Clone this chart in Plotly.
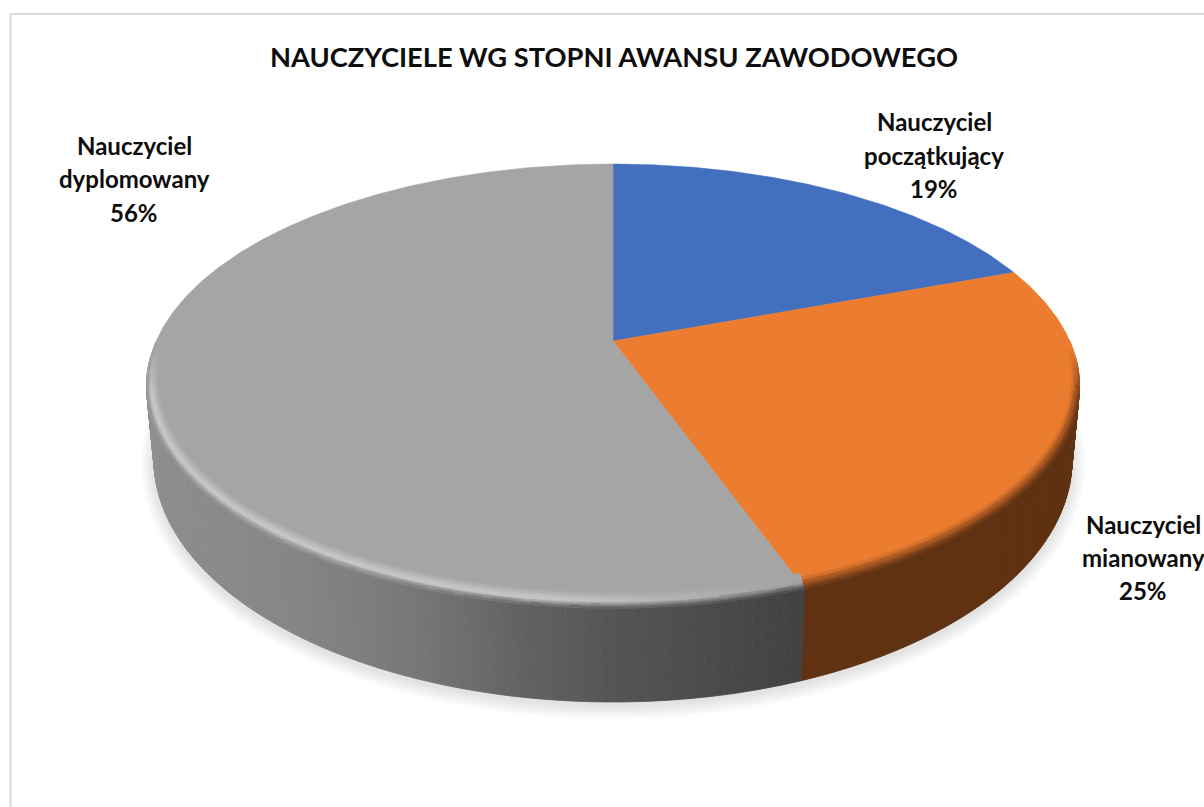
import math
import plotly.graph_objects as go

# ---- data ----
categories = ["Nauczyciel początkujący", "Nauczyciel mianowany", "Nauczyciel dyplomowany"]
values = [19.4, 25.1, 55.5]
title_text = "NAUCZYCIELE WG STOPNI AWANSU ZAWODOWEGO"

# ---- styles ----
face_colors = [(66, 112, 191), (235, 124, 48), (165, 165, 165)]
side_brown = (96, 50, 19)
side_blue = (40, 66, 112)
W, H = 1204, 807
CX, CY, A, B = 613.0, 386.0, 466.5, 222.0   # top ellipse
A2, CY2, B2 = 459.0, 460.0, 242.0           # bottom ellipse
P = (386.0 - 341.0) / 222.0                 # perspective shift of the pie centre
FONT = "Lato, Carlito, Open Sans, sans-serif"


def project(phi):
    """Clockwise angle from 12 o'clock -> normalised ellipse coordinates."""
    u, v = math.sin(phi), math.cos(phi)
    d = 1 + P * v
    return u * math.sqrt(1 - P * P) / d, (v + P) / d


def lerp(c1, c2, t):
    t = max(0.0, min(1.0, t))
    return tuple(c1[i] + (c2[i] - c1[i]) * t for i in range(3))


def gray_side(x):
    stops = [(146, 143), (300, 133), (420, 118), (520, 98), (620, 84), (720, 74), (800, 66)]
    for (x0, g0), (x1, g1) in zip(stops, stops[1:]):
        if x <= x1:
            g = g0 + (g1 - g0) * max(0, x - x0) / (x1 - x0)
            return (g, g, g)
    return (66, 66, 66)


polys = {}


def add(poly, col):
    key = tuple(int(round(c)) for c in col)
    polys.setdefault(key, []).append(poly)


def flush(traces):
    for key, plist in polys.items():
        xs, ys = [], []
        for pl in plist:
            xs += [p[0] for p in pl] + [pl[0][0], None]
            ys += [p[1] for p in pl] + [pl[0][1], None]
        traces.append(go.Scatter(
            x=xs, y=ys, mode="lines", fill="toself", hoverinfo="skip",
            fillcolor="rgb(%d,%d,%d)" % key,
            line=dict(color="rgb(%d,%d,%d)" % key, width=0.8),
            showlegend=False))
    polys.clear()


traces = []

# soft shadow under the pie
for i in range(14):
    d = 14 - i
    traces.append(go.Scatter(
        x=[CX + (A2 + d) * math.cos(math.radians(t)) for t in range(0, 361, 3)],
        y=[CY2 + 4 + (B2 + d) * math.sin(math.radians(t)) for t in range(0, 361, 3)],
        mode="lines", fill="toself", fillcolor="rgba(0,0,0,0.009)",
        line=dict(width=0), hoverinfo="skip", showlegend=False))

# slice boundaries from the values
total = sum(values)
edges = [0.0]
for val in values:
    edges.append(edges[-1] + val / total * 2 * math.pi)


def top_pt(phi):
    u, v = project(phi)
    return CX + A * u, CY - B * v


def bot_pt(phi):
    u, v = project(phi)
    return CX + A2 * u, CY2 - B2 * v


def inner_pt(phi):
    u, v = project(phi)
    return CX + (A - 11) * u, (CY - 8) - (B - 8) * v


# side wall
for k, (c0, c1) in enumerate(zip(edges, edges[1:])):
    n = max(2, int((c1 - c0) / math.radians(0.5)))
    for i in range(n):
        p0 = c0 + (c1 - c0) * i / n
        p1 = c0 + (c1 - c0) * (i + 1) / n
        if project(p0)[1] > 0.12 and project(p1)[1] > 0.12:
            continue
        xm = (top_pt(p0)[0] + top_pt(p1)[0]) / 2
        if k == 2:
            col = gray_side(xm)
        elif k == 1:
            col = side_brown
        else:
            col = side_blue
        add([top_pt(p0), top_pt(p1), bot_pt(p1), bot_pt(p0)], col)
flush(traces)

# top faces
for k, (c0, c1) in enumerate(zip(edges, edges[1:])):
    n = max(2, int((c1 - c0) / math.radians(0.5)))
    arc = [top_pt(c0 + (c1 - c0) * i / n) for i in range(n + 1)]
    pts = [(CX, 341.0)] + arc
    traces.append(go.Scatter(
        x=[p[0] for p in pts] + [pts[0][0]], y=[p[1] for p in pts] + [pts[0][1]],
        mode="lines", fill="toself", fillcolor="rgb(%d,%d,%d)" % face_colors[k],
        line=dict(color="rgb(%d,%d,%d)" % face_colors[k], width=0.5),
        hovertext=categories[k], hoverinfo="text", showlegend=False, name=categories[k]))


# bevelled rim
def rim_color(k, phi, f):
    u, v = project(phi)
    x = CX + A * u
    env = max(0.0, min(1.0, (0.16 - v) / 0.22))
    face = face_colors[k]
    if k == 1:
        c = lerp(side_brown, face, f / 0.8)
    elif k == 0:
        c = face
    else:
        side = gray_side(x)
        h = 1.0 if x < 560 else max(0.0, (780 - x) / 220)
        peak = lerp(face, (200, 200, 200), h)
        c = lerp(side, peak, f / 0.45) if f < 0.45 else lerp(peak, face, (f - 0.45) / 0.55)
    return lerp(face, c, env)


RINGS = 8
for k, (c0, c1) in enumerate(zip(edges, edges[1:])):
    n = max(2, int((c1 - c0) / math.radians(1.0)))
    for i in range(n):
        p0 = c0 + (c1 - c0) * i / n
        p1 = c0 + (c1 - c0) * (i + 1) / n
        pm = (p0 + p1) / 2
        if project(pm)[1] > 0.2:
            continue
        for r in range(RINGS):
            f0, f1 = r / RINGS, (r + 1) / RINGS
            o0, o1, q0, q1 = top_pt(p0), top_pt(p1), inner_pt(p0), inner_pt(p1)
            a0 = (o0[0] + (q0[0] - o0[0]) * f0, o0[1] + (q0[1] - o0[1]) * f0)
            a1 = (o1[0] + (q1[0] - o1[0]) * f0, o1[1] + (q1[1] - o1[1]) * f0)
            b1 = (o1[0] + (q1[0] - o1[0]) * f1, o1[1] + (q1[1] - o1[1]) * f1)
            b0 = (o0[0] + (q0[0] - o0[0]) * f1, o0[1] + (q0[1] - o0[1]) * f1)
            add([a0, a1, b1, b0], rim_color(k, pm, (f0 + f1) / 2))
flush(traces)

fig = go.Figure(traces)

# frame (top and left edges visible in the picture)
fig.add_shape(type="line", x0=10.5, x1=W + 5, y0=14, y1=14, line=dict(color="#d9d9d9", width=2))
fig.add_shape(type="line", x0=10.5, x1=10.5, y0=14, y1=H + 5, line=dict(color="#d9d9d9", width=2))


def text(x, y, s, size):
    fig.add_annotation(x=x, y=y, text="<b>%s</b>" % s, showarrow=False, xanchor="center",
                       yanchor="middle", font=dict(family=FONT, size=size, color="#0d0d0d"))


text(614, 56, title_text, 27.3)

label_pos = [(934, [121, 155, 188]), (1143, [524, 557, 590]), (134, [145, 178, 212])]
for cat, val, (lx, ly) in zip(categories, values, label_pos):
    word, kind = cat.split(" ")
    text(lx, ly[0], word, 24)
    text(lx, ly[1], kind, 24)
    text(lx, ly[2], "%d%%" % round(val), 24)

fig.update_layout(
    width=W, height=H, margin=dict(l=0, r=0, t=0, b=0),
    paper_bgcolor="white", plot_bgcolor="white", showlegend=False,
    xaxis=dict(range=[0, W], visible=False, fixedrange=True),
    yaxis=dict(range=[H, 0], visible=False, fixedrange=True),
)
fig.write_html("out.html", config={"displayModeBar": False},
               post_script="document.body.style.margin='0';")
